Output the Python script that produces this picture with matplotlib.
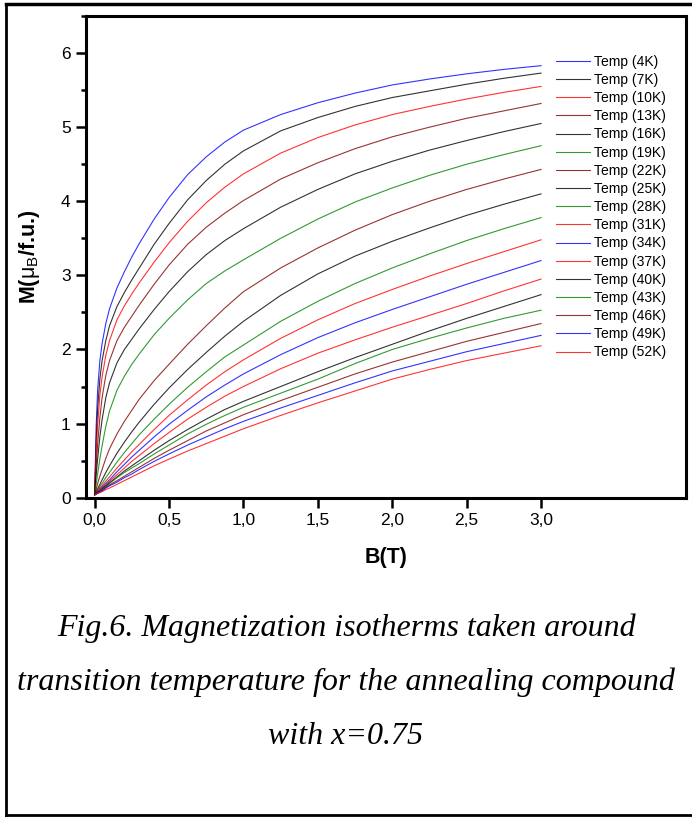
import matplotlib
matplotlib.use("Agg")
import matplotlib.pyplot as plt
from matplotlib.lines import Line2D

plt.rcParams['font.family'] = ['Liberation Sans', 'DejaVu Sans']
plt.rcParams['mathtext.fontset'] = 'custom'
plt.rcParams['mathtext.rm'] = 'Liberation Sans'
plt.rcParams['mathtext.it'] = 'Liberation Sans:italic'
plt.rcParams['mathtext.bf'] = 'Liberation Sans:bold'

# field values (T) where the curves were read
B = [0, 0.01, 0.02, 0.035, 0.05, 0.075, 0.1, 0.15, 0.2, 0.25, 0.3, 0.4, 0.5,
     0.625, 0.75, 0.875, 1.0, 1.25, 1.5, 1.75, 2.0, 2.25, 2.5, 2.75, 3.0]

temps = [4, 7, 10, 13, 16, 19, 22, 25, 28, 31, 34, 37, 40, 43, 46, 49, 52]

m4 = [0.04, 0.95, 1.45, 1.85, 2.08, 2.35, 2.55, 2.83, 3.05, 3.25, 3.43, 3.76, 4.05,
      4.36, 4.60, 4.80, 4.96, 5.17, 5.33, 5.46, 5.57, 5.65, 5.72, 5.78, 5.83]
m7 = [0.04, 0.75, 1.20, 1.60, 1.85, 2.12, 2.32, 2.58, 2.77, 2.94, 3.10, 3.42, 3.70,
      4.02, 4.28, 4.50, 4.68, 4.95, 5.13, 5.28, 5.40, 5.49, 5.58, 5.66, 5.73]
m10 = [0.04, 0.60, 0.98, 1.38, 1.63, 1.92, 2.12, 2.40, 2.59, 2.75, 2.90, 3.18, 3.44,
       3.73, 3.98, 4.19, 4.37, 4.65, 4.86, 5.03, 5.17, 5.28, 5.38, 5.47, 5.55]
m13 = [0.04, 0.42, 0.72, 1.08, 1.35, 1.65, 1.85, 2.12, 2.30, 2.45, 2.60, 2.88, 3.14,
       3.42, 3.65, 3.84, 4.01, 4.30, 4.52, 4.71, 4.87, 5.00, 5.12, 5.22, 5.32]
m16 = [0.04, 0.30, 0.52, 0.82, 1.05, 1.35, 1.55, 1.82, 2.00, 2.14, 2.28, 2.54, 2.78,
       3.05, 3.28, 3.47, 3.63, 3.92, 4.16, 4.37, 4.54, 4.69, 4.82, 4.94, 5.05]
m19 = [0.04, 0.18, 0.32, 0.52, 0.70, 0.96, 1.17, 1.45, 1.64, 1.80, 1.94, 2.20, 2.42,
       2.67, 2.89, 3.06, 3.21, 3.50, 3.76, 3.99, 4.18, 4.35, 4.50, 4.63, 4.75]
m22 = [0.04, 0.11, 0.19, 0.29, 0.38, 0.53, 0.66, 0.86, 1.03, 1.18, 1.33, 1.58, 1.80,
       2.07, 2.32, 2.56, 2.78, 3.10, 3.37, 3.61, 3.82, 4.00, 4.16, 4.30, 4.43]
m25 = [0.04, 0.08, 0.12, 0.18, 0.24, 0.34, 0.43, 0.60, 0.75, 0.89, 1.02, 1.26, 1.48,
       1.73, 1.96, 2.18, 2.38, 2.73, 3.02, 3.26, 3.46, 3.64, 3.81, 3.96, 4.10]
m28 = [0.04, 0.07, 0.10, 0.15, 0.19, 0.27, 0.34, 0.48, 0.61, 0.73, 0.85, 1.06, 1.26,
       1.49, 1.70, 1.90, 2.06, 2.38, 2.65, 2.89, 3.10, 3.29, 3.47, 3.63, 3.78]
m31 = [0.04, 0.06, 0.09, 0.13, 0.16, 0.22, 0.28, 0.40, 0.51, 0.62, 0.72, 0.92, 1.11,
       1.32, 1.52, 1.70, 1.86, 2.15, 2.40, 2.62, 2.81, 2.99, 3.16, 3.32, 3.48]
m34 = [0.04, 0.06, 0.08, 0.11, 0.14, 0.19, 0.24, 0.35, 0.45, 0.55, 0.64, 0.82, 0.99,
       1.18, 1.36, 1.52, 1.67, 1.93, 2.16, 2.36, 2.54, 2.71, 2.88, 3.04, 3.20]
m37 = [0.04, 0.05, 0.07, 0.10, 0.13, 0.17, 0.22, 0.31, 0.40, 0.49, 0.57, 0.73, 0.88,
       1.06, 1.22, 1.37, 1.50, 1.74, 1.95, 2.13, 2.30, 2.46, 2.62, 2.79, 2.95]
m40 = [0.04, 0.05, 0.07, 0.09, 0.12, 0.16, 0.20, 0.28, 0.36, 0.43, 0.50, 0.64, 0.77,
       0.92, 1.06, 1.19, 1.30, 1.50, 1.70, 1.89, 2.07, 2.25, 2.42, 2.58, 2.74]
m43 = [0.04, 0.05, 0.06, 0.09, 0.11, 0.15, 0.19, 0.27, 0.34, 0.40, 0.46, 0.59, 0.71,
       0.86, 0.99, 1.11, 1.22, 1.41, 1.60, 1.81, 2.00, 2.15, 2.29, 2.42, 2.53]
m46 = [0.04, 0.05, 0.06, 0.08, 0.10, 0.14, 0.17, 0.23, 0.29, 0.35, 0.41, 0.53, 0.64,
       0.77, 0.90, 1.01, 1.12, 1.31, 1.49, 1.67, 1.83, 1.97, 2.11, 2.23, 2.35]
m49 = [0.04, 0.05, 0.06, 0.08, 0.09, 0.13, 0.16, 0.21, 0.27, 0.32, 0.38, 0.49, 0.59,
       0.71, 0.82, 0.93, 1.03, 1.21, 1.38, 1.55, 1.71, 1.84, 1.97, 2.08, 2.19]
m52 = [0.04, 0.05, 0.06, 0.07, 0.08, 0.11, 0.13, 0.18, 0.23, 0.28, 0.33, 0.43, 0.52,
       0.63, 0.73, 0.83, 0.93, 1.11, 1.28, 1.44, 1.60, 1.73, 1.85, 1.95, 2.05]

curves = [m4, m7, m10, m13, m16, m19, m22, m25, m28, m31, m34, m37, m40, m43, m46, m49, m52]

blue = '#0000ff'
black = '#000000'
red = '#ff0000'
wine = '#800000'
green = '#008000'
colors = [blue, black, red, wine, black, green, wine, black, green,
          red, blue, red, black, green, wine, blue, red]

fig = plt.figure(figsize=(6.92, 8.18), dpi=100)
ax = fig.add_axes([0.1243, 0.3916, 0.867, 0.5888])

for t, m, c in zip(temps, curves, colors):
    ax.plot(B, m, color=c, lw=0.8, alpha=0.8, label='Temp (%dK)' % t)

ax.set_xlim(-0.058, 3.974)
ax.set_ylim(0, 6.49)
ax.set_xticks([0, 0.5, 1.0, 1.5, 2.0, 2.5, 3.0])
ax.set_xticklabels(['0,0', '0,5', '1,0', '1,5', '2,0', '2,5', '3,0'])
ax.set_yticks([0, 1, 2, 3, 4, 5, 6])
ax.set_yticks([0.5, 1.5, 2.5, 3.5, 4.5, 5.5, 6.5], minor=True)
ax.tick_params(which='major', direction='out', length=7, width=1.8, labelsize=12.5, pad=4)
ax.tick_params(which='minor', direction='out', length=3.6, width=1.8)
for s in ax.spines.values():
    s.set_linewidth(2.2)

ax.set_xlabel('B(T)', fontsize=15.5, fontweight='bold', labelpad=14)
ax.set_ylabel(r'M($\mathrm{\mu_B}$/f.u.)', fontsize=15.5, fontweight='bold', labelpad=14)

handles = [Line2D([], [], color=c, lw=0.8, alpha=0.8) for c in colors]
labels = ['Temp (%dK)' % t for t in temps]
fig.legend(handles, labels, loc='upper left', bbox_to_anchor=(0.8035, 0.9331),
           frameon=False, fontsize=10, borderpad=0, borderaxespad=0,
           handlelength=2.45, handletextpad=0.3, labelspacing=0.3)

# outer frame of the figure panel
fig.add_artist(Line2D([6 / 692, 6 / 692], [1 - 4 / 818, 1 - 815 / 818], color='black', lw=2))
fig.add_artist(Line2D([6 / 692, 1.0], [1 - 4 / 818, 1 - 4 / 818], color='black', lw=2.5))
fig.add_artist(Line2D([6 / 692, 1.0], [1 - 815 / 818, 1 - 815 / 818], color='black', lw=2))

caption = ['Fig.6. Magnetization isotherms taken around',
           'transition temperature for the annealing compound',
           'with x=0.75']
for i, line in enumerate(caption):
    fig.text(0.5, 1 - (628 + 54 * i) / 818, line, ha='center', va='center',
             family='Liberation Serif', style='italic', fontsize=23)

fig.savefig('out.png', dpi=100)
